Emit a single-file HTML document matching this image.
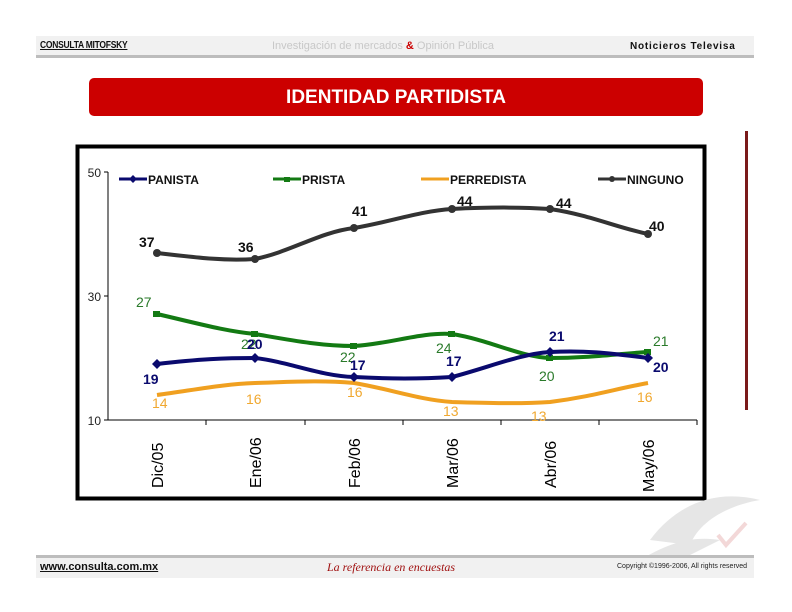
<!DOCTYPE html>
<html><head><meta charset="utf-8"><style>
body{margin:0;background:#fff;width:792px;height:612px;overflow:hidden;position:relative;font-family:"Liberation Sans",Arial,sans-serif}
.band{position:absolute;left:36px;width:718px;background:#f1f1f1}
</style></head><body>
<div class="band" style="top:36px;height:19px;border-bottom:3px solid #bdbdbd"></div>
<div style="position:absolute;left:40px;top:40px;font-size:10px;font-weight:bold;text-decoration:underline;color:#111;letter-spacing:-0.3px;transform:scaleX(0.85);transform-origin:left">CONSULTA MITOFSKY</div>
<div style="position:absolute;left:272px;top:40px;font-size:11px;color:#c8c8c8">Investigación de mercados <span style="color:#c00;font-weight:bold">&amp;</span> Opinión Pública</div>
<div style="position:absolute;left:630px;top:41px;font-size:10px;font-weight:bold;color:#111;letter-spacing:0.8px">Noticieros Televisa</div>
<div style="position:absolute;left:89px;top:78px;width:614px;height:38px;background:#cc0000;border-radius:5px;color:#fff;font-weight:bold;font-size:19px;text-align:center;line-height:40px">IDENTIDAD PARTIDISTA</div>
<div style="position:absolute;left:745px;top:131px;width:3px;height:279px;background:#7a1a1a"></div>
<svg style="position:absolute;left:0;top:0" width="792" height="612">
<rect x="77.5" y="146.5" width="627" height="352" fill="none" stroke="#000" stroke-width="4"/>
<g stroke="#000" stroke-width="1">
<line x1="108" y1="172" x2="108" y2="420"/><line x1="108" y1="420" x2="697" y2="420"/>
<line x1="104" y1="172" x2="108" y2="172"/><line x1="104" y1="296" x2="108" y2="296"/><line x1="104" y1="420" x2="108" y2="420"/>
<line x1="206" y1="420" x2="206" y2="425"/><line x1="305" y1="420" x2="305" y2="425"/><line x1="403" y1="420" x2="403" y2="425"/><line x1="501" y1="420" x2="501" y2="425"/><line x1="599" y1="420" x2="599" y2="425"/><line x1="697" y1="420" x2="697" y2="425"/>
</g>
<g font-size="12" fill="#222" text-anchor="end"><text x="101" y="177">50</text><text x="101" y="301">30</text><text x="101" y="425">10</text></g>
<g font-size="16" fill="#000">
<text transform="translate(163,488) rotate(-90)">Dic/05</text>
<text transform="translate(261,488) rotate(-90)">Ene/06</text>
<text transform="translate(360,488) rotate(-90)">Feb/06</text>
<text transform="translate(458,488) rotate(-90)">Mar/06</text>
<text transform="translate(556,488) rotate(-90)">Abr/06</text>
<text transform="translate(654,492) rotate(-90)">May/06</text>
</g>
<g fill="none" stroke-width="4" stroke-linejoin="round">
<path d="M157,253 C200,258 225,261 255,259 C290,252 320,232 354,228 C390,222 420,211 452,209 C490,207 520,207 550,209 C590,215 615,227 648,234" stroke="#333"/>
<path d="M157,314 C200,324 225,331 255,334 C290,340 320,346 354,346 C390,344 420,332 452,334 C490,340 520,357 550,358 C590,358 615,354 648,352" stroke="#137a13"/>
<path d="M157,364 C200,359 225,358 255,358 C290,362 320,376 354,377 C390,379 420,379 452,377 C490,367 520,354 550,352 C590,350 615,354 648,358" stroke="#0a0a6e"/>
<path d="M157,395 C200,389 225,384 255,383 C290,382 320,380 354,383 C390,389 420,400 452,402 C490,403 520,404 550,402 C590,397 615,389 648,383" stroke="#f0a020"/>
</g>
<g fill="#333"><circle cx="157" cy="253" r="4"/><circle cx="255" cy="259" r="4"/><circle cx="354" cy="228" r="4"/><circle cx="452" cy="209" r="4"/><circle cx="550" cy="209" r="4"/><circle cx="648" cy="234" r="4"/></g>
<g fill="#137a13"><rect x="153" y="311" width="7" height="6"/><rect x="251" y="331" width="7" height="6"/><rect x="350" y="343" width="7" height="6"/><rect x="448" y="331" width="7" height="6"/><rect x="546" y="355" width="7" height="6"/><rect x="644" y="349" width="7" height="6"/></g>
<g fill="#0a0a6e"><path d="M157,359l5,5-5,5-5-5z"/><path d="M255,353l5,5-5,5-5-5z"/><path d="M354,372l5,5-5,5-5-5z"/><path d="M452,372l5,5-5,5-5-5z"/><path d="M550,347l5,5-5,5-5-5z"/><path d="M648,353l5,5-5,5-5-5z"/></g>
<g font-size="14" font-weight="bold" fill="#111">
<text x="139" y="247">37</text><text x="238" y="252">36</text><text x="352" y="216">41</text><text x="457" y="206">44</text><text x="556" y="208">44</text><text x="649" y="231">40</text>
</g>
<g font-size="14" fill="#2a7a2a">
<text x="136" y="307">27</text><text x="241" y="349">22</text><text x="340" y="362">22</text><text x="436" y="353">24</text><text x="539" y="381">20</text><text x="653" y="346">21</text>
</g>
<g font-size="14" font-weight="bold" fill="#0a0a6e">
<text x="143" y="384">19</text><text x="247" y="349">20</text><text x="350" y="370">17</text><text x="446" y="366">17</text><text x="549" y="341">21</text><text x="653" y="372">20</text>
</g>
<g font-size="14" fill="#f0a830">
<text x="152" y="408">14</text><text x="246" y="404">16</text><text x="347" y="397">16</text><text x="443" y="416">13</text><text x="531" y="421">13</text><text x="637" y="402">16</text>
</g>
<g stroke-width="3">
<line x1="119" y1="179" x2="147" y2="179" stroke="#0a0a6e"/><line x1="273" y1="179" x2="301" y2="179" stroke="#137a13"/>
<line x1="421" y1="179" x2="449" y2="179" stroke="#f0a020"/><line x1="598" y1="179" x2="626" y2="179" stroke="#333"/>
</g>
<path d="M133,175l4,4-4,4-4-4z" fill="#0a0a6e"/><rect x="284" y="177" width="6" height="5" fill="#137a13"/><circle cx="612" cy="179" r="3" fill="#333"/>
<g font-size="12" font-weight="bold" fill="#111">
<text x="148" y="184">PANISTA</text><text x="302" y="184">PRISTA</text><text x="450" y="184">PERREDISTA</text><text x="627" y="184">NINGUNO</text>
</g>
<g fill="#e6e6e6"><path d="M650,540 C680,500 720,490 760,500 C730,505 700,520 690,545 Z"/><path d="M640,560 C665,545 690,535 720,540 C700,550 680,560 660,570 Z"/></g>
<path d="M718,535 l8,10 l20,-22" stroke="#f3d8d8" stroke-width="4" fill="none"/>
</svg>
<div class="band" style="top:555px;height:20px;border-top:3px solid #bdbdbd"></div>
<div style="position:absolute;left:40px;top:561px;font-size:11px;font-weight:bold;text-decoration:underline;color:#111">www.consulta.com.mx</div>
<div style="position:absolute;left:327px;top:560px;font-size:12px;font-style:italic;color:#a01010;font-family:'Liberation Serif',serif">La referencia en encuestas</div>
<div style="position:absolute;left:617px;top:563px;font-size:7px;color:#222">Copyright ©1996-2006, All rights reserved</div>
</body></html>
